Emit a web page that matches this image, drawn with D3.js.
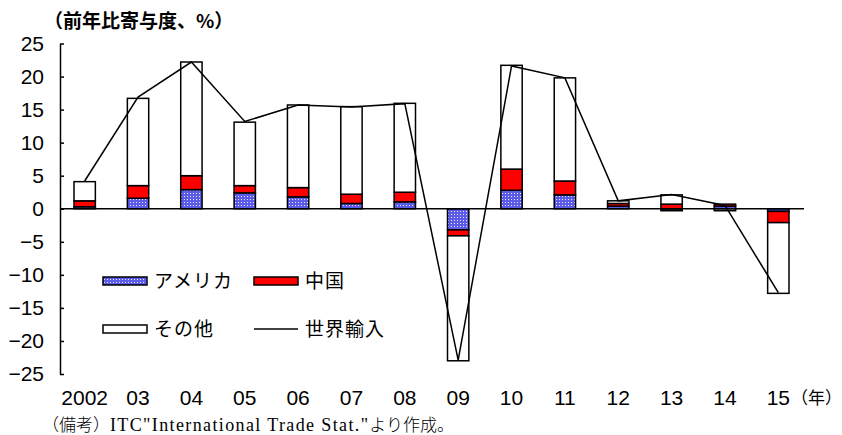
<!DOCTYPE html>
<html>
<head>
<meta charset="utf-8">
<script src="https://cdn.jsdelivr.net/npm/d3@7"></script>
<style>
	body { margin: 0; background: #fff; }
	svg { display: block; }
	.num { font-family: 'Liberation Sans Narrow', 'Liberation Sans', Arial, sans-serif; }
	.jp { font-family: 'Noto Sans CJK JP', sans-serif; }
	.note { font-family: 'Liberation Serif', 'Noto Serif CJK JP', 'Noto Sans CJK JP', serif; }
</style>
</head>
<body>
<svg id="canvas"></svg>
<script>
// data
const years = ['2002', '03', '04', '05', '06', '07', '08', '09', '10', '11', '12', '13', '14', '15'];
const usa = [0.3, 1.6, 2.9, 2.4, 1.8, 0.8, 1.05, -3.2, 2.8, 2.1, 0.4, -0.3, 0.4, -0.4];
const china = [0.9, 1.9, 2.1, 1.1, 1.4, 1.4, 1.45, -0.9, 3.2, 2.1, 0.4, 0.7, 0.3, -1.7];
const other = [2.9, 13.2, 17.2, 9.6, 12.5, 13.25, 13.45, -18.9, 15.7, 15.6, 0.4, 1.4, -0.3, -10.7];
const world = [4.2, 16.9, 22.2, 13.2, 15.7, 15.4, 15.9, -22.9, 21.6, 19.8, 1.2, 2.15, 0.5, -12.7];
const yTicks = [25, 20, 15, 10, 5, 0, -5, -10, -15, -20, -25];
const seriesNames = ['アメリカ', '中国', 'その他', '世界輸入'];

const w = 842;
const h = 435;

const svg = d3.select('#canvas').attr('width', w).attr('height', h);

// dotted blue fill for the US series
const defs = svg.append('defs');
const pat = defs.append('pattern')
	.attr('id', 'dots')
	.attr('patternUnits', 'userSpaceOnUse')
	.attr('width', 3)
	.attr('height', 3);
pat.append('rect').attr('width', 3).attr('height', 3).attr('fill', '#5c5ce8');
pat.append('rect').attr('x', 1).attr('y', 1).attr('width', 1).attr('height', 1).attr('fill', '#e8e8ff');

const fills = ['url(#dots)', '#ff0000', '#ffffff'];

const table = years.map((yr, i) => ({ year: yr, usa: usa[i], china: china[i], other: other[i] }));

const stack = d3.stack()
	.keys(['usa', 'china', 'other'])
	.offset(d3.stackOffsetDiverging);
const stacked = stack(table);

const x = d3.scaleBand()
	.domain(years)
	.range([58, 805])
	.paddingInner(0.6)
	.paddingOuter(0.3);

const y = d3.scaleLinear()
	.domain([-25, 25])
	.range([374, 43.5]);

// bars
svg.append('g')
	.selectAll('g')
	.data(stacked)
	.enter()
	.append('g')
	.attr('fill', (d, i) => fills[i])
	.selectAll('rect')
	.data((d) => d)
	.enter()
	.append('rect')
	.attr('x', (d) => x(d.data.year))
	.attr('width', x.bandwidth())
	.attr('y', (d) => y(Math.max(d[0], d[1])))
	.attr('height', (d) => Math.abs(y(d[0]) - y(d[1])))
	.attr('stroke', '#000')
	.attr('stroke-width', 1.5);

// zero line
svg.append('line')
	.attr('x1', 60)
	.attr('x2', 804)
	.attr('y1', y(0))
	.attr('y2', y(0))
	.attr('stroke', '#000')
	.attr('stroke-width', 1.5);

// world imports line
const line = d3.line()
	.x((d, i) => x(years[i]) + x.bandwidth() / 2)
	.y((d) => y(d));
svg.append('path')
	.datum(world)
	.attr('d', line)
	.attr('fill', 'none')
	.attr('stroke', '#000')
	.attr('stroke-width', 1.5);

// y axis, ticks pointing inward
const yAxis = d3.axisLeft(y)
	.tickValues(yTicks)
	.tickSizeInner(-4)
	.tickSizeOuter(0)
	.tickPadding(16)
	.tickFormat((d) => (d < 0 ? '\u2212' + Math.abs(d) : d));
const gy = svg.append('g').attr('transform', 'translate(60,0)').call(yAxis);
gy.attr('font-family', null).attr('font-size', null);
gy.select('.domain').attr('stroke-width', 1.5);
gy.selectAll('.tick line').attr('stroke-width', 1.5);
gy.selectAll('text')
	.attr('class', 'num')
	.attr('font-size', 21)
	.attr('fill', '#000');

// x labels
svg.append('g')
	.selectAll('text')
	.data(years)
	.enter()
	.append('text')
	.attr('class', 'num')
	.attr('x', (d) => x(d) + x.bandwidth() / 2)
	.attr('y', 405)
	.attr('text-anchor', 'middle')
	.attr('font-size', 21)
	.text((d) => d);

svg.append('text')
	.attr('class', 'jp')
	.attr('x', 791)
	.attr('y', 404)
	.attr('font-size', 17)
	.text('（年）');

// unit title
svg.append('text')
	.attr('class', 'jp')
	.attr('x', 44)
	.attr('y', 28)
	.attr('font-size', 19)
	.attr('font-weight', 'bold')
	.text('（前年比寄与度、%）');

// legend
const legendItems = [
	{ name: seriesNames[0], fill: fills[0], lx: 103, ly: 281 },
	{ name: seriesNames[1], fill: fills[1], lx: 254, ly: 281 },
	{ name: seriesNames[2], fill: fills[2], lx: 103, ly: 329 },
	{ name: seriesNames[3], fill: null, lx: 254, ly: 329 }
];
const lg = svg.append('g')
	.selectAll('g')
	.data(legendItems)
	.enter()
	.append('g')
	.attr('transform', (d) => 'translate(' + d.lx + ',' + d.ly + ')');
lg.filter((d) => d.fill)
	.append('rect')
	.attr('x', 0)
	.attr('y', -4)
	.attr('width', 44)
	.attr('height', 8)
	.attr('fill', (d) => d.fill)
	.attr('stroke', '#000')
	.attr('stroke-width', 1.5);
lg.filter((d) => !d.fill)
	.append('line')
	.attr('x1', 0)
	.attr('x2', 44)
	.attr('stroke', '#000')
	.attr('stroke-width', 1.5);
lg.append('text')
	.attr('class', 'jp')
	.attr('x', 51)
	.attr('y', 7)
	.attr('font-size', 19)
	.attr('letter-spacing', 1)
	.text((d) => d.name);

// source note
const note = svg.append('text')
	.attr('x', 42)
	.attr('y', 431)
	.attr('font-size', 17);
note.append('tspan').attr('class', 'jp').style('font-weight', 300).text('（備考）');
note.append('tspan')
	.attr('class', 'note')
	.attr('font-size', 18)
	.attr('textLength', 258)
	.attr('lengthAdjust', 'spacing')
	.text('ITC"International Trade Stat."');
note.append('tspan').attr('class', 'jp').style('font-weight', 300).text('より作成。');
</script>
</body>
</html>
